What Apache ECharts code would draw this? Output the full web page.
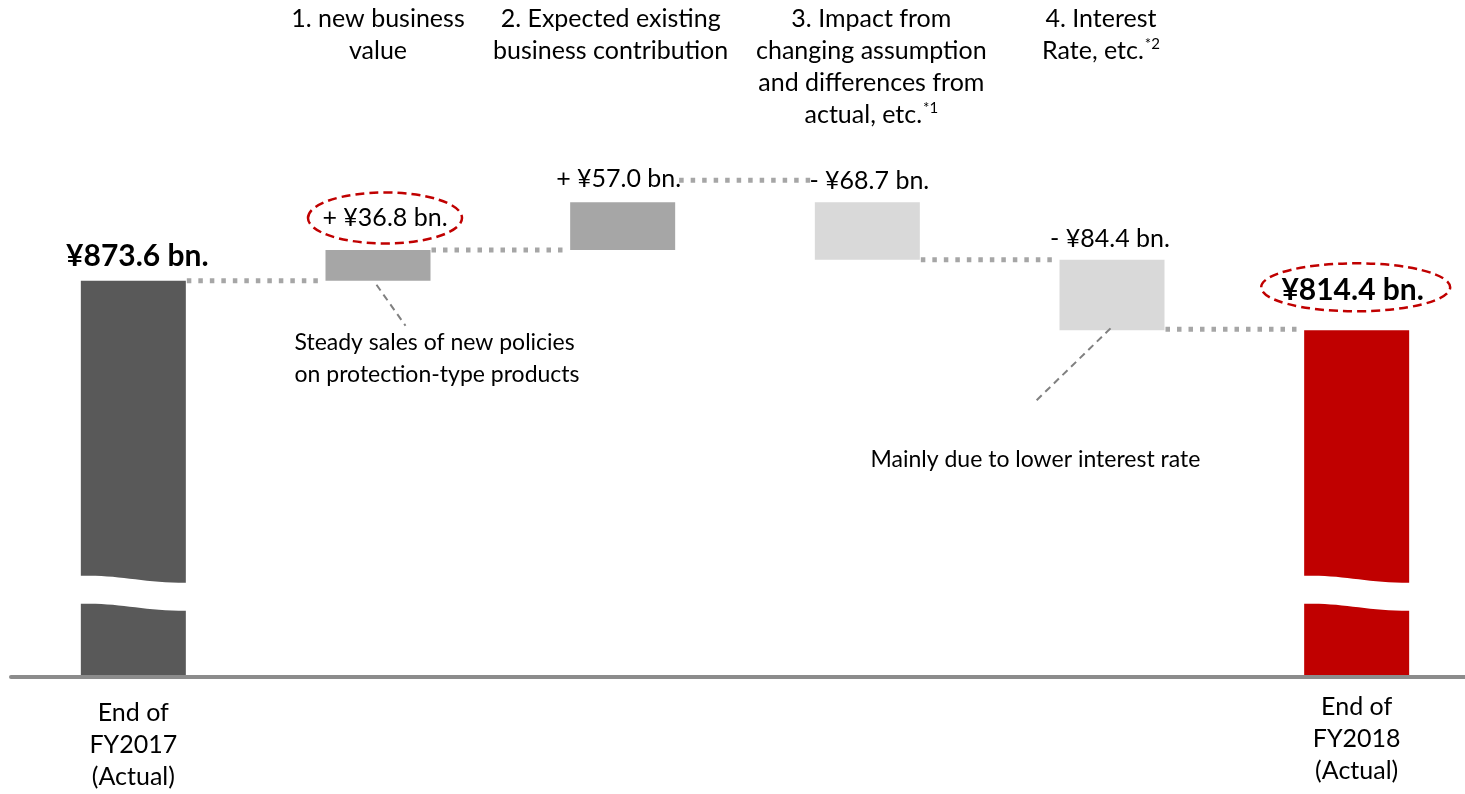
<!DOCTYPE html>
<html>
<head>
<meta charset="utf-8">
<title>Embedded value movement FY2017 to FY2018</title>
<script src="https://cdn.jsdelivr.net/npm/echarts@6.0.0/dist/echarts.min.js"></script>
<style>
  html, body { margin: 0; padding: 0; background: #ffffff; }
  #chart { width: 1465px; height: 794px; }
</style>
</head>
<body>
<div id="chart"></div>
<script>
// ---- data (¥ bn.) ----
const categories = ['FY2017', 'New business', 'Existing business', 'Assumptions', 'Interest rate', 'FY2018'];
const bottomLabels = ['End of\nFY2017\n(Actual)', '', '', '', '', 'End of\nFY2018\n(Actual)'];
const topLabels = [
  '',
  '1. new business\nvalue',
  '2. Expected existing\nbusiness contribution',
  '3. Impact from\nchanging assumption\nand differences from\nactual, etc.{sup|*1}',
  '4. Interest\nRate, etc.{sup|*2}',
  ''
];
const startTotal = 873.6;
const changes = [36.8, 57.0, -68.7, -84.4];
const endTotal = 814.4;
const noteTexts = [
  'Steady sales of new policies\non protection-type products',
  'Mainly due to lower interest rate'
];
const noteBars = [1, 4];

// ---- styling / layout ----
const FONT = 'Lato';
const Y_MIN = 400, Y_MAX = 1000, BREAK_AT = 500;
const BAR_W = 105;
const COLOR_START = '#595959', COLOR_END = '#C00000';
const COLOR_UP = '#A6A6A6', COLOR_DOWN = '#D9D9D9';
const LABEL_LIFT = [24, 32, 23, 21, 21, 40];
const LABEL_DX = [4, 7, -4, 2, -2, -4];
const HEADER_DX = [0, 0, -12, 4, -11, 0];
const HEADER_RISE = 172;
const CONNECTOR_LIFT = [0, 0, 22, 0, 1];
const CONNECTOR_TRIM = [[1, 1], [1, 1], [4, 4], [1, 1], [1, 1]];
const RINGS = { 1: { rx: 77, ry: 25.5, dx: 0, dy: 0 }, 5: { rx: 94.5, ry: 24, dx: 3, dy: -3 } };
const NOTE_LAYOUT = [
  { from: [-1.5, 4], to: [27.5, 45], text: [-83.5, 46] },
  { from: [-1.5, -2], to: [-75.5, 70], text: [-241.5, 113] }
];

// ---- derived waterfall rows: [index, low, high, change] ----
const barRows = [[0, Y_MIN, startTotal, 0]];
const levels = [startTotal];
let running = startTotal;
changes.forEach(function (c, k) {
  const next = running + c;
  barRows.push([k + 1, Math.min(running, next), Math.max(running, next), c]);
  running = next;
  levels.push(running);
});
barRows.push([categories.length - 1, Y_MIN, endTotal, 0]);
levels[levels.length - 1] = endTotal;
const connectorRows = levels.map(function (v, i) { return [i, v]; });
const noteRows = noteBars.map(function (b, k) { return [b, barRows[b][1], k]; });
const headerRows = topLabels
  .map(function (t, i) { return [i, Y_MAX]; })
  .filter(function (r) { return topLabels[r[0]] !== ''; });

function valueText(i) {
  if (i === 0) return '¥' + startTotal.toFixed(1) + ' bn.';
  if (i === categories.length - 1) return '¥' + endTotal.toFixed(1) + ' bn.';
  const c = changes[i - 1];
  return (c >= 0 ? '+ ' : '- ') + '¥' + Math.abs(c).toFixed(1) + ' bn.';
}

const chart = echarts.init(document.getElementById('chart'), null, { renderer: 'canvas' });

function renderBar(params, api) {
  const i = api.value(0), lo = api.value(1), hi = api.value(2);
  const pTop = api.coord([i, hi]);
  const pBot = api.coord([i, lo]);
  const cx = pTop[0];
  const x0 = cx - BAR_W / 2, x1 = cx + BAR_W / 2;
  const isTotal = (i === 0 || i === categories.length - 1);
  const children = [];
  if (isTotal) {
    // total bars are cut by a wavy white gap to show the truncated axis
    const color = i === 0 ? COLOR_START : COLOR_END;
    const cy = api.coord([i, BREAK_AT])[1];
    const half = 14, amp = 3.5;
    const c1x = x0 + BAR_W * 0.35, c2x = x0 + BAR_W * 0.6;
    const uL = cy - half - amp, uR = cy - half + amp;
    const lL = cy + half - amp, lR = cy + half + amp;
    const upper = 'M' + x0 + ' ' + pTop[1] + ' L' + x1 + ' ' + pTop[1] + ' L' + x1 + ' ' + uR +
      ' C' + c2x + ' ' + uR + ' ' + c1x + ' ' + (uL - 1.5) + ' ' + x0 + ' ' + uL + ' Z';
    const lower = 'M' + x0 + ' ' + lL + ' C' + c1x + ' ' + (lL - 1.5) + ' ' + c2x + ' ' + lR + ' ' + x1 + ' ' + lR +
      ' L' + x1 + ' ' + pBot[1] + ' L' + x0 + ' ' + pBot[1] + ' Z';
    children.push({ type: 'path', shape: { pathData: upper }, style: { fill: color } });
    children.push({ type: 'path', shape: { pathData: lower }, style: { fill: color } });
  } else {
    const color = api.value(3) >= 0 ? COLOR_UP : COLOR_DOWN;
    children.push({
      type: 'rect',
      shape: { x: x0, y: pTop[1], width: BAR_W, height: pBot[1] - pTop[1] },
      style: { fill: color }
    });
  }
  const lx = cx + LABEL_DX[i], ly = pTop[1] - LABEL_LIFT[i];
  children.push({
    type: 'text', x: lx, y: ly,
    style: {
      text: valueText(i),
      fill: '#000000',
      font: (isTotal ? 'bold 30px ' : '25px ') + FONT,
      align: 'center', verticalAlign: 'middle'
    }
  });
  const ring = RINGS[i];
  if (ring) {
    children.push({
      type: 'ellipse',
      shape: { cx: lx + ring.dx, cy: ly + ring.dy, rx: ring.rx, ry: ring.ry },
      style: { fill: null, stroke: '#C00000', lineWidth: 2.5, lineDash: [9, 5] }
    });
  }
  return { type: 'group', children: children };
}

function renderConnector(params, api) {
  const i = api.value(0), v = api.value(1);
  if (i >= categories.length - 1) return null;
  const a = api.coord([i, v]);
  const b = api.coord([i + 1, v]);
  const y = a[1] - CONNECTOR_LIFT[i];
  const trim = CONNECTOR_TRIM[i];
  return {
    type: 'line',
    shape: { x1: a[0] + BAR_W / 2 + trim[0], y1: y, x2: b[0] - BAR_W / 2 - trim[1], y2: y },
    style: { stroke: '#A6A6A6', lineWidth: 5, lineDash: [4.5, 7] }
  };
}

function renderHeader(params, api) {
  const i = api.value(0);
  const p = api.coord([i, api.value(1)]);
  return {
    type: 'text', x: p[0] + HEADER_DX[i], y: p[1] - HEADER_RISE,
    style: {
      text: topLabels[i], fill: '#000000', font: '25px ' + FONT,
      lineHeight: 32, align: 'center', verticalAlign: 'top',
      rich: { sup: { fontSize: 15, fontFamily: FONT, verticalAlign: 'top', lineHeight: 32, padding: [2, 0, 0, 1] } }
    }
  };
}

function renderNote(params, api) {
  const i = api.value(0), v = api.value(1), k = api.value(2);
  const p = api.coord([i, v]);
  const L = NOTE_LAYOUT[k];
  return {
    type: 'group',
    children: [
      {
        type: 'line',
        shape: { x1: p[0] + L.from[0], y1: p[1] + L.from[1], x2: p[0] + L.to[0], y2: p[1] + L.to[1] },
        style: { stroke: '#808080', lineWidth: 2, lineDash: [7, 5] }
      },
      {
        type: 'text', x: p[0] + L.text[0], y: p[1] + L.text[1],
        style: {
          text: noteTexts[k], fill: '#000000', font: '23px ' + FONT,
          lineHeight: 32, align: 'left', verticalAlign: 'top'
        }
      }
    ]
  };
}

const bottomItems = bottomLabels.map(function (t, i) {
  return i === 0 ? { value: t, textStyle: { padding: [6, 0, 0, 0] } } : t;
});

chart.setOption({
  animation: false,
  backgroundColor: '#ffffff',
  grid: { left: 11, width: 1468, top: 175, bottom: 117, outerBoundsMode: 'none', containLabel: false },
  xAxis: {
    type: 'category', position: 'bottom', data: bottomItems, z: 10,
    axisLine: { show: true, lineStyle: { color: '#8C8C8C', width: 4 } },
    axisTick: { show: false },
    axisLabel: {
      interval: 0, color: '#000000', fontFamily: FONT, fontSize: 25, lineHeight: 32,
      verticalAlign: 'top', margin: 14
    }
  },
  yAxis: { type: 'value', min: Y_MIN, max: Y_MAX, show: false },
  series: [
    {
      name: 'connectors', type: 'custom', renderItem: renderConnector,
      data: connectorRows, encode: { x: 0, y: 1 }, silent: true, z: 1
    },
    {
      name: 'bars', type: 'custom', renderItem: renderBar,
      data: barRows, encode: { x: 0, y: [1, 2] }, silent: true, z: 2
    },
    {
      name: 'headers', type: 'custom', renderItem: renderHeader, clip: false,
      data: headerRows, encode: { x: 0, y: 1 }, silent: true, z: 3
    },
    {
      name: 'notes', type: 'custom', renderItem: renderNote,
      data: noteRows, encode: { x: 0, y: 1 }, silent: true, z: 3
    }
  ]
});
</script>
</body>
</html>
